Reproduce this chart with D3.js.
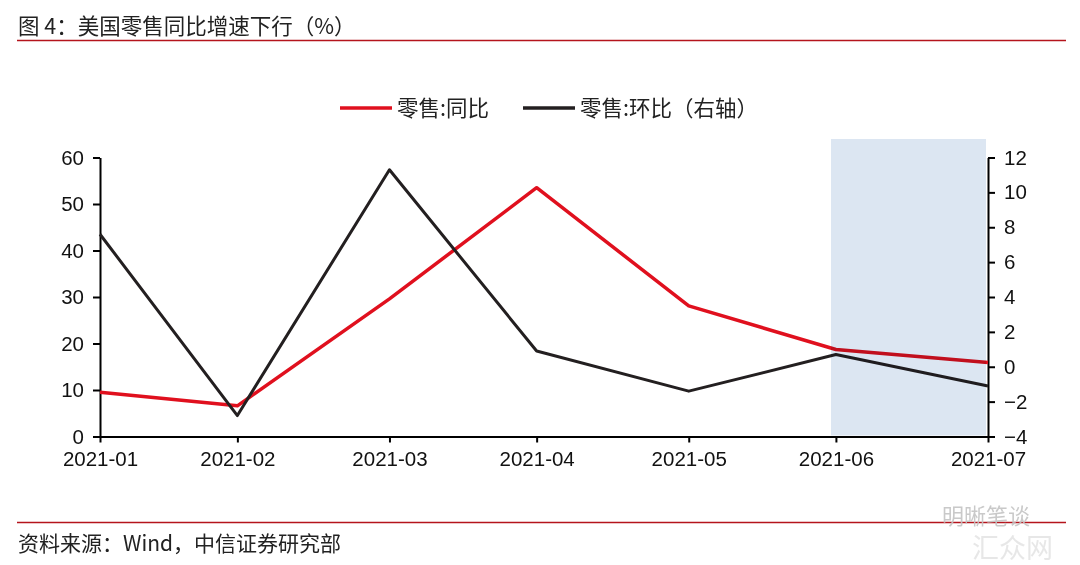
<!DOCTYPE html>
<html>
<head>
<meta charset="utf-8">
<script src='https://d3js.org/d3.v7.min.js'></script>
<style>
	body { margin: 0; background: #fff; }
	text.cn { font-family: "Noto Sans CJK SC", "Noto Sans", sans-serif; fill: #222; }
	.axis text { font-family: "Liberation Sans", Arial, sans-serif; font-size: 20.5px; fill: #111; }
	.axis path, .axis line { stroke: #000; stroke-width: 2px; }
</style>
</head>
<body onload='init()'>
<script>
// data: month-end dates, labelled by month
var months = ["2021-01-31","2021-02-28","2021-03-31","2021-04-30","2021-05-31","2021-06-30","2021-07-31"];
var monthLabels = ["2021-01","2021-02","2021-03","2021-04","2021-05","2021-06","2021-07"];
var yoy = [9.5, 6.6, 29.6, 53.5, 28.1, 18.7, 15.9];   // 零售:同比 (left)
var mom = [7.6, -2.8, 11.3, 0.9, -1.4, 0.7, -1.1];     // 零售:环比 (right)
var leftTicks = [0, 10, 20, 30, 40, 50, 60];
var rightTicks = [-4, -2, 0, 2, 4, 6, 8, 10, 12];
var shadeRange = ["2021-06-29", "2021-07-31"];
var seriesNames = ["零售:同比", "零售:环比（右轴）"];

function init() {
	var width = 1080,
		height = 565,
		left = 100, right = 988,
		top = 157.5, bottom = 436.5;

	var svg = d3.select("body")
				.append("svg")
				.attr("width", width)
				.attr("height", height);

	var x = d3.scaleTime()
			.domain([new Date(months[0]), new Date(months[months.length-1])])
			.range([left, right]);
	var yL = d3.scaleLinear().domain([0, 60]).range([bottom, top]);
	var yR = d3.scaleLinear().domain([-4, 12]).range([bottom, top]);

	// title + rule
	svg.append("text").attr("class", "cn")
		.attr("x", 18).attr("y", 34)
		.attr("font-size", 21.5)
		.text("图 4：美国零售同比增速下行（%）");
	svg.append("line")
		.attr("x1", 17).attr("x2", 1066).attr("y1", 40.5).attr("y2", 40.5)
		.attr("stroke", "#b5141c").attr("stroke-width", 1.5);

	// legend
	var lg = svg.append("g");
	var colors = ["#e0101e", "#231f20"];
	var lx = [340, 523];
	seriesNames.forEach(function(n, i) {
		lg.append("line")
			.attr("x1", lx[i]).attr("x2", lx[i]+52)
			.attr("y1", 108).attr("y2", 108)
			.attr("stroke", colors[i]).attr("stroke-width", 3.5);
		lg.append("text").attr("class", "cn")
			.attr("x", lx[i]+57).attr("y", 116)
			.attr("font-size", 21.5)
			.text(n);
	});

	// axes
	svg.append("g").attr("class", "axis")
		.attr("transform", "translate("+left+",0)")
		.call(d3.axisLeft(yL).tickValues(leftTicks).tickSize(7).tickPadding(9).tickSizeOuter(0));
	svg.append("g").attr("class", "axis")
		.attr("transform", "translate("+right+",0)")
		.call(d3.axisRight(yR).tickValues(rightTicks).tickSize(7).tickPadding(9).tickSizeOuter(0));
	svg.append("g").attr("class", "axis")
		.attr("transform", "translate(0,"+bottom+")")
		.call(d3.axisBottom(x)
			.tickValues(months.map(function(d) { return new Date(d); }))
			.tickFormat(function(d, i) { return monthLabels[i]; })
			.tickSize(6).tickPadding(9).tickSizeOuter(0));

	// lines
	var lineL = d3.line()
		.x(function(d, i) { return x(new Date(months[i])); })
		.y(function(d) { return yL(d); });
	var lineR = d3.line()
		.x(function(d, i) { return x(new Date(months[i])); })
		.y(function(d) { return yR(d); });

	svg.append("path")
		.attr("d", lineL(yoy))
		.attr("fill", "none")
		.attr("stroke", colors[0])
		.attr("stroke-width", 3.5)
		.attr("stroke-linejoin", "round");
	svg.append("path")
		.attr("d", lineR(mom))
		.attr("fill", "none")
		.attr("stroke", colors[1])
		.attr("stroke-width", 3)
		.attr("stroke-linejoin", "round");

	// shaded band (multiply so lines darken under it)
	svg.append("rect")
		.attr("x", x(new Date(shadeRange[0])))
		.attr("y", 139)
		.attr("width", x(new Date(shadeRange[1])) - x(new Date(shadeRange[0])) - 2)
		.attr("height", bottom - 139 - 1)
		.attr("fill", "#dce6f2")
		.style("mix-blend-mode", "multiply");

	// source + rule
	svg.append("line")
		.attr("x1", 17).attr("x2", 1066).attr("y1", 522.5).attr("y2", 522.5)
		.attr("stroke", "#b5141c").attr("stroke-width", 1.5);
	svg.append("text").attr("class", "cn")
		.attr("x", 18).attr("y", 551)
		.attr("font-size", 21)
		.text("资料来源：Wind，中信证券研究部");

	// watermark
	svg.append("text").attr("class", "cn")
		.attr("x", 942).attr("y", 524)
		.attr("font-size", 22)
		.style("fill", "#c4c4c4")
		.attr("opacity", 0.9)
		.text("明晰笔谈");
	svg.append("text").attr("class", "cn")
		.attr("x", 972).attr("y", 558)
		.attr("font-size", 27)
		.style("fill", "#e2e2e2")
		.attr("opacity", 0.8)
		.text("汇众网");
}
</script>
</body>
</html>
